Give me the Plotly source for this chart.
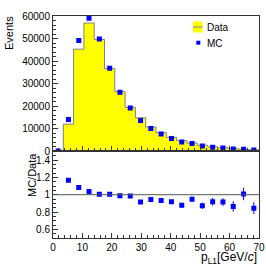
import numpy as np
import plotly.graph_objects as go

# ---- data ----
bin_edges = [0, 3.5, 7, 10.5, 14, 17.5, 21, 24.5, 28, 31.5, 35, 38.5, 42, 45.5, 49, 52.5, 56, 59.5, 63, 66.5, 70]
data_counts = [0, 12100, 45300, 56900, 49600, 36700, 26500, 19500, 14900, 10800, 8300, 6200, 4800, 3700, 2750, 2070, 1640, 1250, 950, 720]
mc_counts = [150, 14130, 49100, 58950, 49800, 36850, 26200, 19200, 13650, 10200, 7740, 5700, 4220, 3510, 2400, 1900, 1500, 1080, 958, 608]
ratio_err = [None, 0.012, 0.008, 0.007, 0.008, 0.009, 0.011, 0.013, 0.015, 0.018, 0.02, 0.023, 0.027, 0.03, 0.036, 0.044, 0.044, 0.06, 0.072, 0.068]
main_yticks = [0, 10000, 20000, 30000, 40000, 50000, 60000]
ratio_yticks = [0.6, 0.8, 1.0, 1.2, 1.4]
ratio_yticklabels = ["0.6", "0.8", "1", "1.2", "1.4"]
xticks = [0, 10, 20, 30, 40, 50, 60, 70]

edges = np.array(bin_edges)
centers = 0.5 * (edges[:-1] + edges[1:])
data_arr = np.array(data_counts, dtype=float)
mc_arr = np.array(mc_counts, dtype=float)
ratio = np.where(data_arr > 0, mc_arr / np.where(data_arr > 0, data_arr, 1), np.nan)
err = np.array([np.nan if e is None else e for e in ratio_err])

W, H = 266, 266
L, R, T, B = 53, 7, 16, 28
PW, PH = W - L - R, H - T - B
split = 0.39

def px(xp):
    return (xp - L) / PW

def py(yp):
    return (H - B - yp) / PH

FONT = "Liberation Sans, Arial, Helvetica, sans-serif"
AX = "#333333"

fig = go.Figure()

# Data histogram (step filled)
fig.add_trace(go.Scatter(
    x=list(edges), y=list(data_arr) + [data_arr[-1]],
    mode="lines", line=dict(shape="hv", color="#808080", width=1),
    fill="tozeroy", fillcolor="#ffff00", name="Data", showlegend=False,
    xaxis="x", yaxis="y"))

# MC points
fig.add_trace(go.Scatter(
    x=centers, y=mc_arr, mode="markers",
    marker=dict(symbol="square", size=5, color="#0000ff"),
    name="MC", showlegend=False, xaxis="x", yaxis="y"))

# Ratio
fig.add_trace(go.Scatter(
    x=centers, y=ratio, mode="markers",
    marker=dict(symbol="square", size=5, color="#0000ff"),
    error_y=dict(type="data", array=err, color="#0000ff", thickness=1, width=0),
    showlegend=False, xaxis="x2", yaxis="y2"))

tickfont = dict(family=FONT, size=10, color="black")

fig.update_layout(
    template="none",
    width=W, height=H,
    margin=dict(l=L, r=R, t=T, b=B, autoexpand=False),
    paper_bgcolor="white", plot_bgcolor="white",
    font=dict(family=FONT, color="black"),
    xaxis=dict(domain=[0, 1], anchor="y", range=[0, 70], showticklabels=False,
               tickvals=xticks, ticks="inside", ticklen=5, tickcolor=AX, automargin=False,
               minor=dict(dtick=2, ticks="inside", ticklen=3, tickcolor=AX, showgrid=False),
               showline=True, linecolor=AX, linewidth=1, mirror=True,
               showgrid=False, zeroline=False),
    yaxis=dict(domain=[split, 1], anchor="x", range=[0, 60000], tickformat="d",
               tickvals=main_yticks, ticks="inside", ticklen=5, tickcolor=AX, automargin=False,
               minor=dict(dtick=2000, ticks="inside", ticklen=3, tickcolor=AX, showgrid=False),
               showline=True, linecolor=AX, linewidth=1, mirror=True,
               showgrid=False, zeroline=False, tickfont=tickfont),
    xaxis2=dict(domain=[0, 1], anchor="y2", range=[0, 70], matches="x",
                tickvals=xticks, ticks="inside", ticklen=5, tickcolor=AX, automargin=False,
                minor=dict(dtick=2, ticks="inside", ticklen=3, tickcolor=AX, showgrid=False),
                showline=True, linecolor=AX, linewidth=1, mirror=True,
                showgrid=False, zeroline=False, tickfont=tickfont),
    yaxis2=dict(domain=[0, split], anchor="x2", range=[0.5, 1.5],
                tickvals=ratio_yticks, ticktext=ratio_yticklabels, automargin=False,
                ticks="inside", ticklen=5, tickcolor=AX,
                minor=dict(dtick=0.05, ticks="inside", ticklen=3, tickcolor=AX, showgrid=False),
                showline=True, linecolor=AX, linewidth=1, mirror=True,
                showgrid=False, zeroline=False, tickfont=tickfont),
)

# ratio = 1 reference line
fig.add_shape(type="line", xref="x2 domain", yref="y2", x0=0, x1=1, y0=1, y1=1,
              line=dict(color="#555555", width=1))

# Legend (drawn manually)
fig.add_shape(type="rect", xref="paper", yref="paper",
              x0=px(193), x1=px(202.5), y0=py(32.5), y1=py(21.5),
              fillcolor="#ffff00", line=dict(width=0))
fig.add_shape(type="line", xref="paper", yref="paper",
              x0=px(193), x1=px(202.5), y0=py(27), y1=py(27),
              line=dict(color="#808080", width=1))
fig.add_shape(type="rect", xref="paper", yref="paper",
              x0=px(196.3), x1=px(200.3), y0=py(44.7), y1=py(40.7),
              fillcolor="#0000ff", line=dict(width=0))
fig.add_annotation(text="Data", xref="paper", yref="paper", x=px(204.5), y=py(27),
                   xanchor="left", yanchor="middle", showarrow=False,
                   font=dict(family=FONT, size=10))
fig.add_annotation(text="MC", xref="paper", yref="paper", x=px(204.5), y=py(43),
                   xanchor="left", yanchor="middle", showarrow=False,
                   font=dict(family=FONT, size=10))

# Axis titles
fig.add_annotation(text="Events", xref="paper", yref="paper", x=px(9), y=py(14),
                   xanchor="center", yanchor="top", textangle=-90, showarrow=False,
                   font=dict(family=FONT, size=11))
fig.add_annotation(text="MC/Data", xref="paper", yref="paper", x=px(32), y=py(151),
                   xanchor="center", yanchor="top", textangle=-90, showarrow=False,
                   font=dict(family=FONT, size=11))
fig.add_annotation(text="p<sub>L1</sub>[GeV/<i>c</i>]", xref="paper", yref="paper",
                   x=1.0, y=py(258), xanchor="right", yanchor="middle", showarrow=False,
                   font=dict(family=FONT, size=12))

fig.write_html("out.html", config={"displayModeBar": False},
               post_script="document.body.style.margin='0';document.body.style.overflow='hidden';")
